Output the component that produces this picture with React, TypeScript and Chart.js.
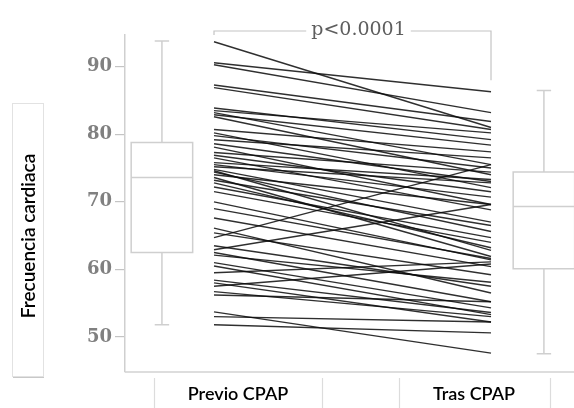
import React, { useEffect, useRef } from "react";
import { Chart, registerables } from "chart.js";

Chart.register(...registerables);

// Paired heart-rate readings per patient: before and after CPAP
const previoCPAP = [
  93.7, 90.6, 90.3, 87.3, 86.9, 83.9, 83.2, 82.9, 82.6, 80.7,
  80.2, 79.2, 78.1, 77.3, 76.5, 75.8, 75.5, 74.8, 74.4, 74.0,
  73.6, 72.8, 72.2, 70.0, 67.6, 66.1, 65.4, 64.7, 62.9, 62.5,
  62.1, 61.0, 59.5, 58.4, 58.0, 56.7, 56.2, 53.7, 53.0, 51.8,
  83.5, 79.8, 78.6, 76.9, 75.2, 74.6, 73.2, 71.5, 69.0, 63.5,
  60.5, 57.5,
];
const trasCPAP = [
  81.0, 86.3, 83.2, 81.9, 80.7, 79.2, 75.5, 78.4, 74.0, 77.4,
  72.1, 76.5, 69.6, 74.4, 68.8, 73.3, 70.7, 67.0, 65.6, 69.6,
  61.9, 63.2, 64.7, 61.4, 60.4, 56.5, 59.2, 75.5, 69.6, 55.2,
  58.1, 54.3, 61.1, 53.6, 52.2, 53.0, 55.2, 47.6, 52.2, 50.6,
  80.2, 75.0, 73.0, 71.5, 72.8, 62.8, 66.5, 64.0, 61.6, 57.5,
  53.3, 60.8,
];

// Box-plot summaries for each group
const groupLabels = ["Previo CPAP", "Tras CPAP"];
const boxMin = [51.8, 47.5];
const boxQ1 = [62.5, 60.1];
const boxMedian = [73.6, 69.3];
const boxQ3 = [78.8, 74.4];
const boxMax = [93.8, 86.5];

const yTicks = [50, 60, 70, 80, 90];
const yAxisTitle = "Frecuencia cardiaca";
const pValueText = "p<0.0001";

const W = 574;
const H = 408;

// x positions (in x-scale units) where the two boxes sit
const boxCenters = [-0.188, 1.191];
const boxHalfWidth = 0.111;
const capHalfWidth = 0.026;

const boxColor = "#cfcfcf";
const textFont = "Lato, 'Open Sans', sans-serif";

const decorPlugin = {
  id: "decor",
  beforeDatasetsDraw(chart: any) {
    const { ctx, scales, chartArea } = chart;
    const xs = scales.x;
    const ys = scales.y;
    ctx.save();

    // box plots
    ctx.strokeStyle = boxColor;
    ctx.lineWidth = 1.5;
    for (let i = 0; i < groupLabels.length; i++) {
      const cx = xs.getPixelForValue(boxCenters[i]);
      const l = xs.getPixelForValue(boxCenters[i] - boxHalfWidth);
      const r = xs.getPixelForValue(boxCenters[i] + boxHalfWidth);
      const cl = xs.getPixelForValue(boxCenters[i] - capHalfWidth);
      const cr = xs.getPixelForValue(boxCenters[i] + capHalfWidth);
      const yMin = ys.getPixelForValue(boxMin[i]);
      const yQ1 = ys.getPixelForValue(boxQ1[i]);
      const yMed = ys.getPixelForValue(boxMedian[i]);
      const yQ3 = ys.getPixelForValue(boxQ3[i]);
      const yMax = ys.getPixelForValue(boxMax[i]);
      ctx.beginPath();
      ctx.rect(l, yQ3, r - l, yQ1 - yQ3);
      ctx.moveTo(l, yMed);
      ctx.lineTo(r, yMed);
      ctx.moveTo(cx, yQ3);
      ctx.lineTo(cx, yMax);
      ctx.moveTo(cl, yMax);
      ctx.lineTo(cr, yMax);
      ctx.moveTo(cx, yQ1);
      ctx.lineTo(cx, yMin);
      ctx.moveTo(cl, yMin);
      ctx.lineTo(cr, yMin);
      ctx.stroke();
    }

    // significance bracket
    const bx0 = xs.getPixelForValue(0);
    const bx1 = xs.getPixelForValue(1);
    const by = chartArea.top - 4;
    ctx.font = "19px 'DejaVu Serif', serif";
    const tw = ctx.measureText(pValueText).width;
    const tx = (bx0 + bx1) / 2 + 6;
    ctx.strokeStyle = "#c4c4c4";
    ctx.lineWidth = 1.2;
    ctx.beginPath();
    ctx.moveTo(bx0, by + 4);
    ctx.lineTo(bx0, by);
    ctx.lineTo(tx - tw / 2 - 5, by);
    ctx.moveTo(tx + tw / 2 + 5, by);
    ctx.lineTo(bx1, by);
    ctx.lineTo(bx1, ys.getPixelForValue(88));
    ctx.stroke();
    ctx.fillStyle = "#5e5e5e";
    ctx.textAlign = "center";
    ctx.textBaseline = "middle";
    ctx.fillText(pValueText, tx, by - 1);

    ctx.restore();
  },
  afterDraw(chart: any) {
    const { ctx, chartArea } = chart;
    ctx.save();

    // bottom axis line and category cells
    ctx.strokeStyle = "#d2d2d2";
    ctx.lineWidth = 1.5;
    ctx.beginPath();
    ctx.moveTo(chartArea.left, chartArea.bottom);
    ctx.lineTo(W, chartArea.bottom);
    ctx.stroke();
    ctx.strokeStyle = "#dcdcdc";
    ctx.lineWidth = 1.2;
    ctx.beginPath();
    for (const x of [154, 322, 399, 550]) {
      ctx.moveTo(x + 0.5, chartArea.bottom + 6);
      ctx.lineTo(x + 0.5, H);
    }
    ctx.stroke();

    ctx.fillStyle = "#000";
    ctx.font = `600 18px ${textFont}`;
    ctx.textAlign = "center";
    ctx.textBaseline = "middle";
    ctx.fillText(groupLabels[0], 238, 394);
    ctx.fillText(groupLabels[1], 474, 394);

    // y-axis title card
    const cardL = 12, cardT = 103, cardR = 43, cardB = 376;
    ctx.fillStyle = "#c8c8c8";
    ctx.fillRect(cardL + 1, cardB, cardR - cardL, 2);
    ctx.fillStyle = "#fff";
    ctx.fillRect(cardL, cardT, cardR - cardL, cardB - cardT);
    ctx.strokeStyle = "#e2e2e2";
    ctx.lineWidth = 1;
    ctx.strokeRect(cardL + 0.5, cardT + 0.5, cardR - cardL, cardB - cardT);

    ctx.translate(29, 236);
    ctx.rotate(-Math.PI / 2);
    ctx.fillStyle = "#000";
    ctx.font = `600 19px ${textFont}`;
    ctx.fillText(yAxisTitle, 0, 0);

    ctx.restore();
  },
};

export default function App() {
  const canvasRef = useRef<HTMLCanvasElement | null>(null);

  useEffect(() => {
    document.body.style.margin = "0";
    const canvas = canvasRef.current;
    if (!canvas) return;

    const datasets = previoCPAP.map((before, i) => ({
      label: `Paciente ${i + 1}`,
      data: [
        { x: 0, y: before },
        { x: 1, y: trasCPAP[i] },
      ],
      borderColor: "rgba(10,10,10,0.85)",
      borderWidth: 1.4,
      pointRadius: 0,
      fill: false,
      tension: 0,
    }));

    const chart = new Chart(canvas, {
      type: "line",
      data: { datasets },
      options: {
        animation: false,
        responsive: false,
        maintainAspectRatio: false,
        layout: { padding: { top: 35, bottom: 36, left: 0, right: 0 } },
        plugins: {
          legend: { display: false },
          tooltip: { enabled: false },
          title: { display: false },
        },
        scales: {
          x: {
            type: "linear",
            display: false,
            min: -0.3213,
            max: 1.2996,
          },
          y: {
            type: "linear",
            min: 44.8,
            max: 94.7,
            afterFit(scale: any) {
              scale.width = 125;
            },
            afterBuildTicks(scale: any) {
              scale.ticks = yTicks.map((v) => ({ value: v }));
            },
            border: { display: true, color: "#cfcfcf", width: 1.5 },
            grid: {
              display: true,
              drawOnChartArea: false,
              drawTicks: true,
              tickLength: 10,
              color: "#c4c4c4",
              lineWidth: 1.2,
            },
            ticks: {
              padding: 3,
              color: "#808080",
              font: { family: "'DejaVu Serif', serif", size: 18, weight: "bold" },
            },
          },
        },
      },
      plugins: [decorPlugin],
    });

    return () => chart.destroy();
  }, []);

  return (
    <div style={{ position: "relative", width: W, height: H, background: "#fff" }}>
      <canvas ref={canvasRef} width={W} height={H} style={{ width: W, height: H, display: "block" }} />
    </div>
  );
}
